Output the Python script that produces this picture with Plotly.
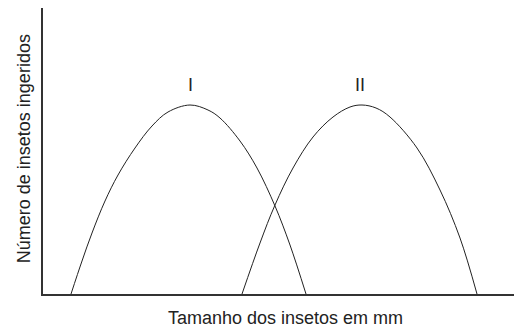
import plotly.graph_objects as go

# curve I (small insects)
x_i = [28, 39, 49, 62, 75, 92, 109, 125, 147, 165, 177, 197, 214, 232, 247, 263]
y_i = [0, 33, 61, 93, 119, 146, 168, 182, 189, 184, 176, 153, 126, 88, 49, 0]

# curve II (larger insects)
x_ii = [199, 217, 232, 250, 270, 290, 307, 319, 333, 347, 374, 397, 417, 434]
y_ii = [0, 51, 89, 126, 157, 177, 187, 189, 186, 177, 146, 104, 56, 0]

labels = ["I", "II"]
label_x = [147, 317]
label_y = [209, 209]

fig = go.Figure()
for xs, ys in [(x_i, y_i), (x_ii, y_ii)]:
    fig.add_trace(go.Scatter(
        x=xs, y=ys, mode="lines",
        line=dict(color="#222222", width=1, shape="spline", smoothing=1),
        showlegend=False, hoverinfo="skip",
    ))

for lab, lx, ly in zip(labels, label_x, label_y):
    fig.add_annotation(x=lx, y=ly, text=lab, showarrow=False,
                       font=dict(size=18, color="#222222"))

# axis titles as annotations so they sit where the original has them
fig.add_annotation(xref="paper", yref="paper", x=0.506, y=-0.084,
                   text="Tamanho dos insetos em mm", showarrow=False,
                   xanchor="center", yanchor="middle")
fig.add_annotation(xref="paper", yref="paper", x=-0.038, y=0.509,
                   text="Número de insetos ingeridos", showarrow=False,
                   textangle=-90, xanchor="center", yanchor="middle")

fig.update_layout(
    width=514, height=321,
    margin=dict(l=35, r=0, t=0, b=35),
    plot_bgcolor="white", paper_bgcolor="white",
    font=dict(family="Liberation Sans, Arial, sans-serif", size=18, color="#222222"),
)

fig.update_xaxes(
    range=[0, 479], showgrid=False, zeroline=False, showticklabels=False, ticks="",
    showline=True, linecolor="#333333", linewidth=2,
)
fig.update_yaxes(
    range=[0, 286], showgrid=False, zeroline=False, showticklabels=False, ticks="",
    showline=True, linecolor="#333333", linewidth=2,
)

fig.write_html("out.html")
